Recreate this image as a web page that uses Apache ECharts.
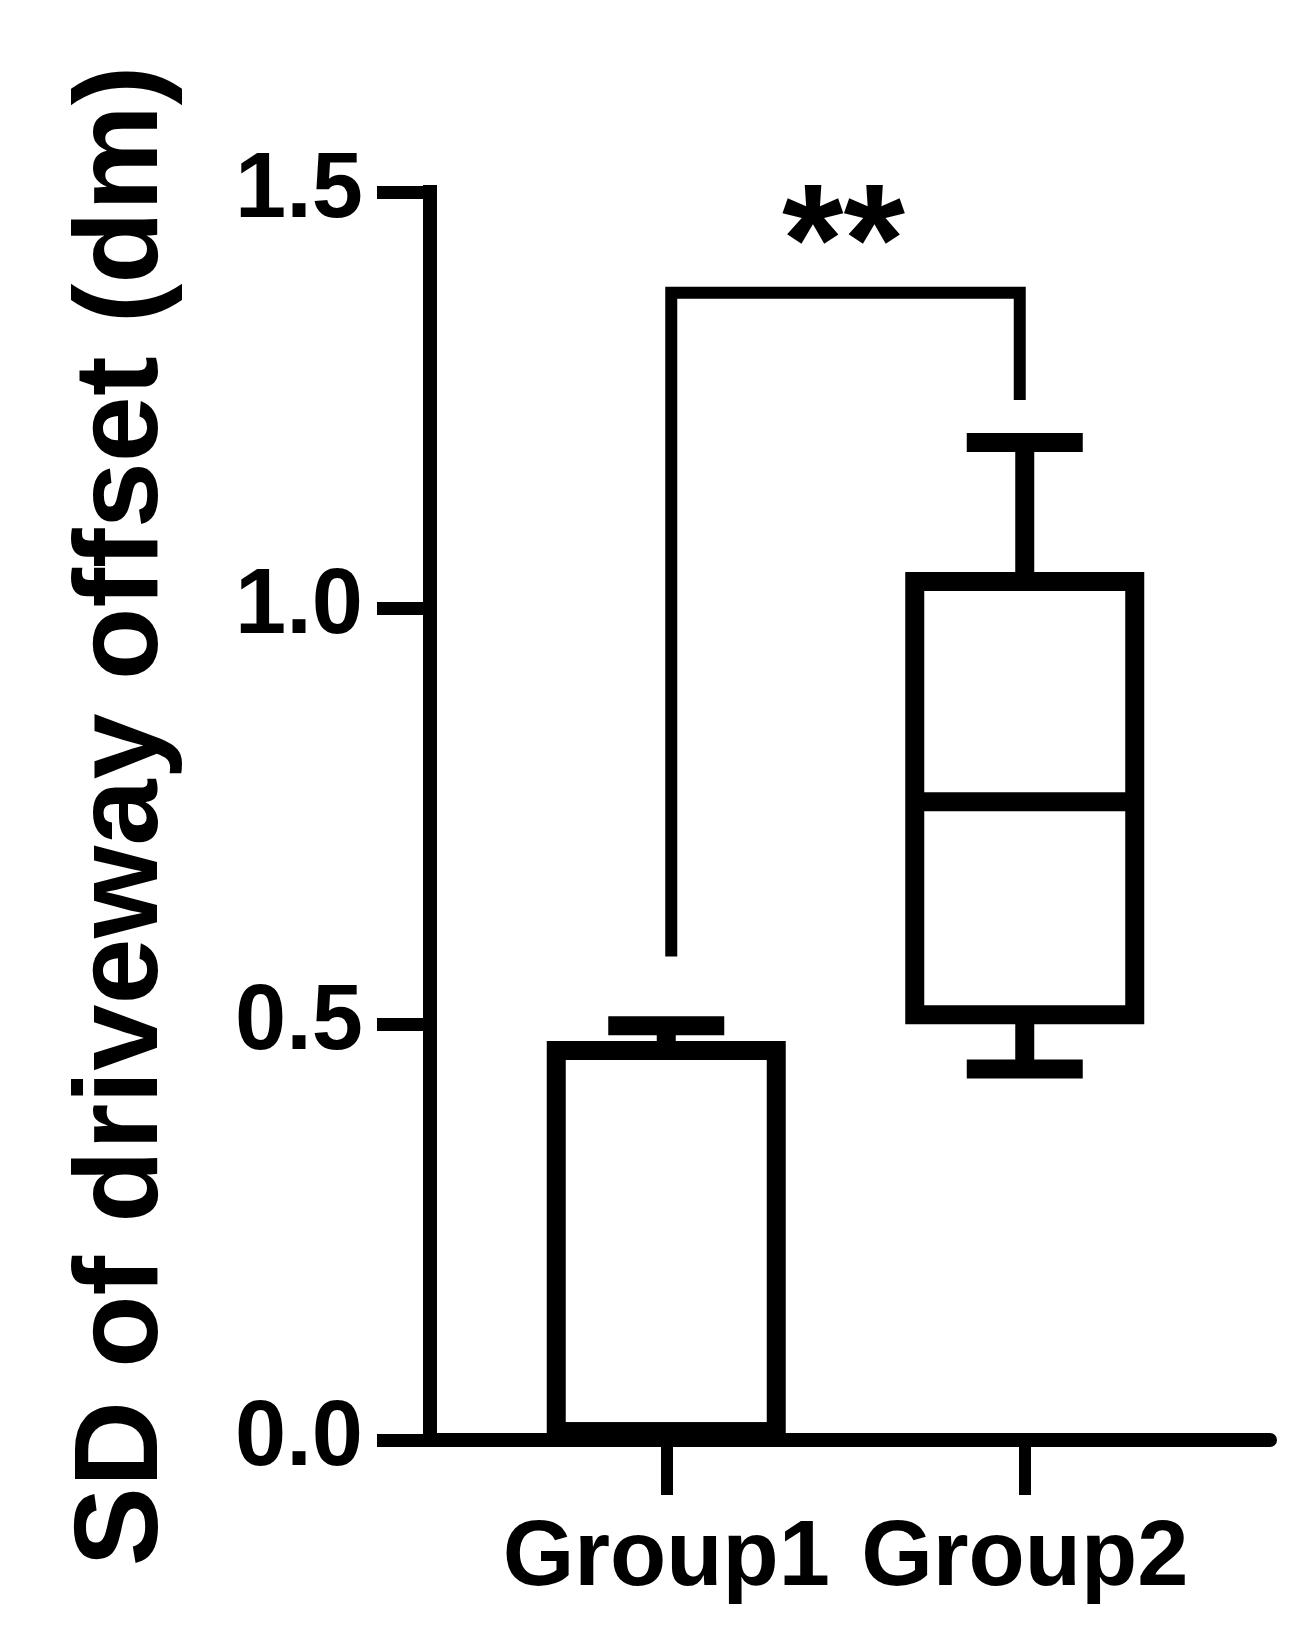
<!DOCTYPE html>
<html>
<head>
<meta charset="utf-8">
<script src="https://cdn.jsdelivr.net/npm/echarts@6/dist/echarts.min.js"></script>
<style>
html, body { margin: 0; padding: 0; background: #fff; }
#chart { width: 1312px; height: 1643px; }
</style>
</head>
<body>
<div id="chart"></div>
<script>
// data
var categories = ['Group1', 'Group2'];
// [min, Q1, median, Q3, max]
var group1Box = [0.01, 0.01, 0.01, 0.468, 0.498];
var group2Box = [0.446, 0.511, 0.767, 1.032, 1.199];
var yTicks = ['0.0', '0.5', '1.0', '1.5'];
// significance bracket: left leg end, bar level, right leg end
var bracket = [0.581, 1.379, 1.25];
var sigLabel = '**';

var FONT = '"Liberation Sans", Arial, sans-serif';
var chart = echarts.init(document.getElementById('chart'), null, { renderer: 'canvas' });

function renderBox(params, api) {
    var x = api.value(0);
    var pt = function (v) { return api.coord([x, v]); };
    var pMin = pt(api.value(1)), pQ1 = pt(api.value(2)), pMed = pt(api.value(3));
    var pQ3 = pt(api.value(4)), pMax = pt(api.value(5));
    var cx = pMed[0];
    var halfBox = 110, halfCap = 58;
    var st = { stroke: '#000', lineWidth: 19, fill: null };
    return {
        type: 'group',
        children: [
            { type: 'line', shape: { x1: cx, y1: pQ3[1], x2: cx, y2: pMax[1] }, style: st },
            { type: 'line', shape: { x1: cx - halfCap, y1: pMax[1], x2: cx + halfCap, y2: pMax[1] }, style: st },
            { type: 'line', shape: { x1: cx, y1: pQ1[1], x2: cx, y2: pMin[1] }, style: st },
            { type: 'line', shape: { x1: cx - halfCap, y1: pMin[1], x2: cx + halfCap, y2: pMin[1] }, style: st },
            { type: 'rect', shape: { x: cx - halfBox, y: pQ3[1], width: halfBox * 2, height: pQ1[1] - pQ3[1] },
              style: { stroke: '#000', lineWidth: 19, fill: '#fff', lineJoin: 'miter' } },
            { type: 'line', shape: { x1: cx - halfBox, y1: pMed[1], x2: cx + halfBox, y2: pMed[1] }, style: st }
        ]
    };
}

function renderBracket(params, api) {
    var a = api.coord([api.value(0), api.value(2)]);
    var b = api.coord([api.value(0), api.value(3)]);
    var c = api.coord([api.value(1), api.value(3)]);
    var d = api.coord([api.value(1), api.value(4)]);
    return {
        type: 'group',
        children: [
            { type: 'polyline', shape: { points: [[a[0] + 5, a[1]], [b[0] + 5, b[1]], [c[0] - 5, c[1]], [d[0] - 5, d[1]]] },
              style: { stroke: '#000', lineWidth: 12, fill: null, lineJoin: 'miter' } },
            { type: 'text', x: (b[0] + c[0]) / 2 - 2, y: b[1] - 42,
              style: { text: sigLabel, fontSize: 158, fontWeight: 'bold', fontFamily: FONT,
                       fill: '#000', align: 'center', verticalAlign: 'middle' } }
        ]
    };
}

chart.setOption({
    animation: false,
    backgroundColor: '#fff',
    grid: [
        { left: 430, right: 42, top: 192, bottom: 203, outerBoundsMode: 'none' },
        { left: 487, right: 108, top: 192, bottom: 203, outerBoundsMode: 'none' }
    ],
    xAxis: [
        {
            gridIndex: 0, type: 'value', min: 0, max: 1,
            axisLine: { show: true, onZero: false, lineStyle: { color: '#000', width: 14 } },
            axisTick: { show: false }, axisLabel: { show: false }, splitLine: { show: false }
        },
        {
            gridIndex: 1, type: 'category', data: categories,
            axisLine: { show: false },
            axisTick: { show: true, alignWithLabel: true, length: 55, lineStyle: { color: '#000', width: 12 } },
            axisLabel: { interval: 0, hideOverlap: false, margin: 74, color: '#000',
                         fontSize: 92, fontWeight: 'bold', fontFamily: FONT },
            splitLine: { show: false }
        }
    ],
    yAxis: [
        {
            gridIndex: 0, type: 'value', min: 0, max: 1.5, interval: 0.5,
            name: 'SD of driveway offset (dm)', nameLocation: 'middle', nameGap: 246,
            nameTextStyle: { color: '#000', fontSize: 119, fontWeight: 'bold', fontFamily: FONT },
            axisLine: { show: true, lineStyle: { color: '#000', width: 14, cap: 'square' } },
            axisTick: { show: true, length: 53, lineStyle: { color: '#000', width: 13 } },
            axisLabel: {
                margin: 67, color: '#000', fontSize: 92, fontWeight: 'bold', fontFamily: FONT,
                formatter: function (v) { return yTicks[Math.round(v / 0.5)]; }
            },
            splitLine: { show: false }
        },
        { gridIndex: 1, type: 'value', min: 0, max: 1.5, show: false }
    ],
    series: [
        {
            type: 'custom', xAxisIndex: 1, yAxisIndex: 1, clip: false, silent: true,
            renderItem: renderBox,
            data: [[0].concat(group1Box), [1].concat(group2Box)]
        },
        {
            type: 'custom', xAxisIndex: 1, yAxisIndex: 1, clip: false, silent: true,
            renderItem: renderBracket,
            data: [[0, 1].concat(bracket)]
        }
    ]
});
</script>
</body>
</html>
